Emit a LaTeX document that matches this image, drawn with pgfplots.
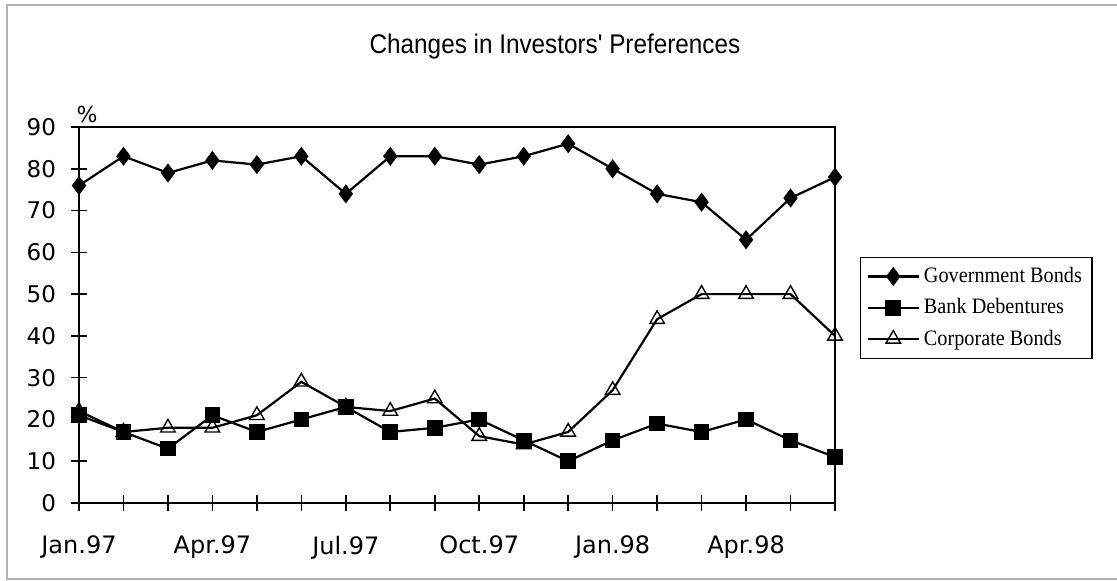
\documentclass[border=0pt]{standalone}
\usepackage{fontspec}
\setmainfont{DejaVu Sans}
\newfontfamily\titlefont[FakeStretch=0.9]{Liberation Sans}
\newfontfamily\legfont[FakeStretch=0.92]{Liberation Serif}
\usepackage{pgfplots}
\pgfplotsset{compat=1.18}

\begin{document}
\begin{tikzpicture}
% whole picture: 1117x581 px at 0.5pt per px, axis corner at px (79,503)
\path[use as bounding box] (-39.5pt,-39pt) rectangle (519pt,251.5pt);
\draw[gray!60, line width=1pt] (519pt,249pt) -- (-36pt,249pt) -- (-36pt,-38pt) -- (519pt,-38pt);
\node[font=\titlefont\fontsize{13.5}{16}\selectfont] at (238pt,228pt) {Changes in Investors' Preferences};
\node[font=\fontsize{11}{13}\selectfont] at (4pt,194pt) {\%};
\begin{axis}[
    at={(0pt,0pt)}, anchor=south west,
    scale only axis, width=378pt, height=188pt,
    xmin=0, xmax=17, ymin=0, ymax=90,
    xtick={0,...,17},
    xticklabels={Jan.97,,,Apr.97,,,Jul.97,,,Oct.97,,,Jan.98,,,Apr.98,,},
    ytick={0,10,...,90},
    xtick pos=bottom, ytick pos=left,
    tick align=center, major tick length=8pt,
    axis line style={line width=1pt},
    tick style={black, line width=0.8pt},
    /pgf/number format/assume math mode=true,
    xticklabel style={font=\fontsize{12}{14}\selectfont, yshift=-9pt},
    yticklabel style={font=\fontsize{11.5}{13}\selectfont, xshift=-4pt},
    legend cell align=left,
    legend style={at={(1.033,0.655)}, anchor=north west, draw=black,
        line width=0.6pt, font=\legfont\fontsize{11}{12}\selectfont,
        row sep=2.5pt, inner sep=3pt},
    legend image code/.code={\draw[mark repeat=2,mark phase=2]
        plot coordinates {(0cm,0cm) (0.45cm,0cm) (0.9cm,0cm)};},
]
% Government Bonds
\addplot[black, line width=1.1pt, mark=diamond*, mark size=4.3pt,
    mark options={solid, fill=black, line width=0.6pt}]
    coordinates {
    (0,76) (1,83) (2,79) (3,82) (4,81) (5,83) (6,74) (7,83) (8,83)
    (9,81) (10,83) (11,86) (12,80) (13,74) (14,72) (15,63) (16,73) (17,78)
    };
\addlegendentry{Government Bonds}
% Bank Debentures
\addplot[black, line width=1.1pt, mark=square*, mark size=3.6pt,
    mark options={solid, fill=black, line width=0.6pt}]
    coordinates {
    (0,21) (1,17) (2,13) (3,21) (4,17) (5,20) (6,23) (7,17) (8,18)
    (9,20) (10,15) (11,10) (12,15) (13,19) (14,17) (15,20) (16,15) (17,11)
    };
\addlegendentry{Bank Debentures}
% Corporate Bonds
\addplot[black, line width=1.1pt, mark=triangle, mark size=4.2pt,
    mark options={solid, fill=white, line width=0.7pt}]
    coordinates {
    (0,22) (1,17) (2,18) (3,18) (4,21) (5,29) (6,23) (7,22) (8,25)
    (9,16) (10,14) (11,17) (12,27) (13,44) (14,50) (15,50) (16,50) (17,40)
    };
\addlegendentry{Corporate Bonds}
\end{axis}
\end{tikzpicture}
\end{document}
